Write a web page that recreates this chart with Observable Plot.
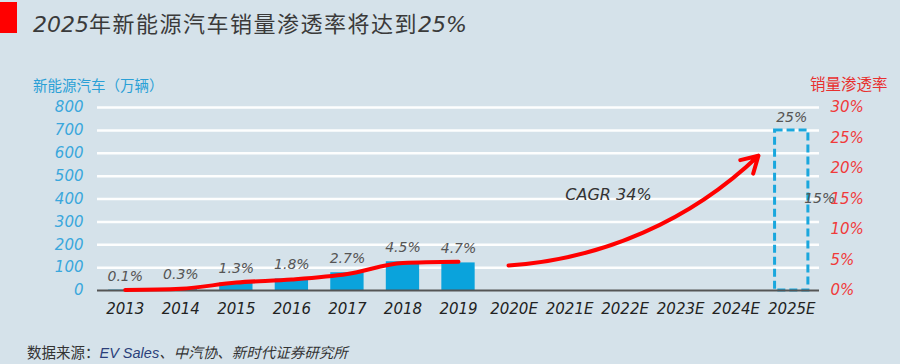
<!DOCTYPE html>
<html>
<head>
<meta charset="utf-8">
<script src="https://cdn.jsdelivr.net/npm/d3@7"></script>
<script src="https://cdn.jsdelivr.net/npm/@observablehq/plot@0.6"></script>
<style>
  html, body { margin: 0; padding: 0; }
  body { width: 900px; height: 364px; background: #d5e2ea; position: relative; overflow: hidden; font-family: "Noto Sans CJK SC", sans-serif; }
  #bar { position: absolute; left: 0; top: 2px; width: 17px; height: 31px; background: #ff0000; }
  #title { position: absolute; left: 33px; top: 8px; font-size: 22px; color: #3a3a3a; letter-spacing: 1.5px; white-space: nowrap; line-height: 28px; }
  .hand { font-family: "DejaVu Sans", sans-serif; font-style: italic; letter-spacing: 0; }
  #ltitle { position: absolute; left: 33px; top: 74px; font-size: 14.5px; color: #2aa0d6; white-space: nowrap; }
  #rtitle { position: absolute; left: 810px; top: 72px; font-size: 15.5px; color: #e8302f; white-space: nowrap; }
  #chart { position: absolute; left: 0; top: 45px; }
  #footer { position: absolute; left: 27px; top: 341px; font-size: 14.5px; color: #333; white-space: nowrap; }
  #footer i { font-style: italic; }
  #footer .ev { color: #2b3f7a; font-family: "Liberation Sans", sans-serif; }
</style>
</head>
<body>
<div id="bar"></div>
<div id="title"></div>
<div id="ltitle"></div>
<div id="rtitle"></div>
<div id="chart"></div>
<div id="footer"></div>
<script>
// ---- data ----
const categories = ["2013","2014","2015","2016","2017","2018","2019","2020E","2021E","2022E","2023E","2024E","2025E"];
const actualYears = ["2013","2014","2015","2016","2017","2018","2019"];
const salesValues = [1.8, 7.5, 33.1, 50.7, 77.7, 125.6, 120.6];      // 万辆
const rateValues = [0.1, 0.3, 1.3, 1.8, 2.7, 4.5, 4.7];             // %
const rateLabels = ["0.1%","0.3%","1.3%","1.8%","2.7%","4.5%","4.7%"];
const forecastYear = "2025E";
const forecastSales = 700;
const forecastLabel = "25%";
const sideLabelRate = 15;
const sideLabel = "15%";
const salesTicks = [0,100,200,300,400,500,600,700,800];
const rateTicks = [0,5,10,15,20,25,30];
const cagrText = "CAGR 34%";
const cagrTextPos = {x: 8.7, rate: 15.6};
const arrowFrom = {x: 6.9, rate: 4.1};
const arrowTo = {x: 11.4, rate: 22.1};
const titleParts = [["2025", true], ["年新能源汽车销量渗透率将达到", false], ["25%", true]];
const leftTitle = "新能源汽车（万辆）";
const rightTitle = "销量渗透率";
const footerText = ["数据来源：", "EV Sales", "、中汽协、新时代证券研究所"];

// ---- helpers ----
const salesMax = salesTicks[salesTicks.length - 1];
const rateMax = rateTicks[rateTicks.length - 1];
const rateToY = r => r * salesMax / rateMax;
const idx = c => categories.indexOf(c);

document.getElementById("title").innerHTML = titleParts.map(([t, h]) => h ? `<span class="hand">${t}</span>` : t).join("");
document.getElementById("ltitle").textContent = leftTitle;
document.getElementById("rtitle").textContent = rightTitle;
document.getElementById("footer").innerHTML = `${footerText[0]}<i class="ev">${footerText[1]}</i><i>${footerText[2]}</i>`;

const actual = actualYears.map((c, i) => ({i: idx(c), sales: salesValues[i], rate: rateValues[i], label: rateLabels[i]}));
const forecast = [{i: idx(forecastYear), sales: forecastSales, label: forecastLabel}];
const side = [{i: idx(forecastYear), y: rateToY(sideLabelRate), label: sideLabel}];
const half = 0.3;
const handFont = "DejaVu Sans, sans-serif";

const chart = Plot.plot({
  width: 900,
  height: 280,
  marginLeft: 97,
  marginRight: 81,
  marginTop: 62,
  marginBottom: 35,
  style: {background: "transparent", overflow: "visible"},
  x: {type: "linear", domain: [-0.5, categories.length - 0.5], axis: null},
  y: {domain: [0, salesMax], axis: null},
  marks: [
    Plot.ruleY(salesTicks.slice(1), {stroke: "#ffffff", strokeWidth: 2.5, strokeOpacity: 0.95}),
    Plot.rectY(actual, {x1: d => d.i - half, x2: d => d.i + half, y1: 0, y2: "sales", fill: "#0aa3dc"}),
    Plot.rectY(forecast, {x1: d => d.i - half, x2: d => d.i + half, y1: 0, y2: "sales", fill: "none", stroke: "#1aa7dd", strokeWidth: 3, strokeDasharray: "8,4"}),
    Plot.ruleY([0], {stroke: "#555", strokeWidth: 2}),
    Plot.line(actual, {x: "i", y: d => rateToY(d.rate), stroke: "#ff0000", strokeWidth: 4, curve: "monotone-x"}),
    Plot.arrow([{a: arrowFrom, b: arrowTo}], {
      x1: d => d.a.x, y1: d => rateToY(d.a.rate), x2: d => d.b.x, y2: d => rateToY(d.b.rate),
      bend: -20, stroke: "#ff0000", strokeWidth: 4, headLength: 7
    }),
    Plot.text(actual, {x: "i", y: "sales", text: "label", dy: -14, fill: "#555", fontSize: 14, fontStyle: "italic", fontFamily: handFont}),
    Plot.text(forecast, {x: "i", y: "sales", text: "label", dy: -13, fill: "#555", fontSize: 14, fontStyle: "italic", fontFamily: handFont}),
    Plot.text(side, {x: "i", y: "y", text: "label", dx: 28, fill: "#555", fontSize: 14, fontStyle: "italic", fontFamily: handFont}),
    Plot.text([cagrTextPos], {x: "x", y: d => rateToY(d.rate), text: () => cagrText, fill: "#333", fontSize: 16, fontStyle: "italic", fontFamily: handFont}),
    Plot.axisY(salesTicks, {anchor: "left", tickSize: 0, tickPadding: 14, fontSize: 15, fontStyle: "italic", fontFamily: handFont, color: "#3aa7dc"}),
    Plot.axisY(rateTicks.map(rateToY), {anchor: "right", tickSize: 0, tickPadding: 11, fontSize: 15, fontStyle: "italic", fontFamily: handFont, color: "#f03a3a", tickFormat: d => Math.round(d * rateMax / salesMax) + "%"}),
    Plot.axisX(categories.map((c, i) => i), {anchor: "bottom", tickSize: 0, tickPadding: 13, fontSize: 15, fontStyle: "italic", fontFamily: handFont, color: "#222", tickFormat: i => categories[i]})
  ]
});
document.getElementById("chart").appendChild(chart);
</script>
</body>
</html>
